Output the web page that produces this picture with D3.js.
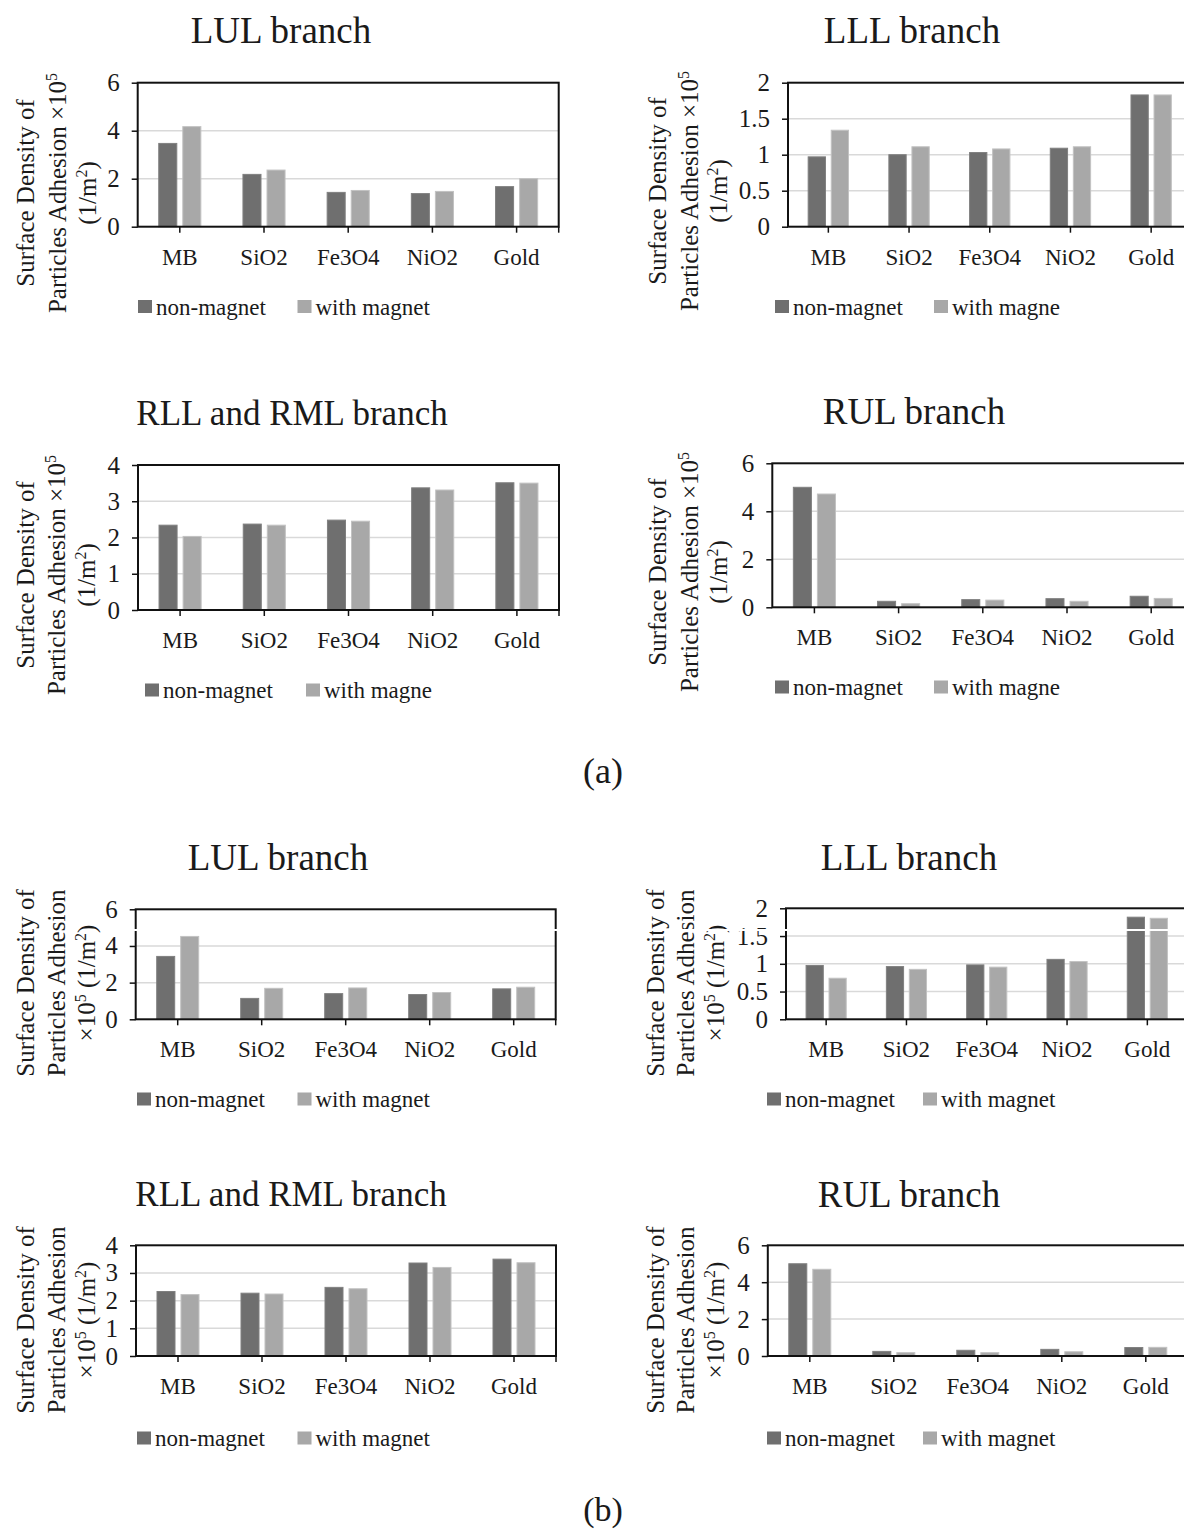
<!DOCTYPE html>
<html>
<head>
<meta charset="utf-8">
<script src="https://cdn.jsdelivr.net/npm/d3@7"></script>
<style>
  body { margin: 0; background: #fff; }
  text { font-family: "Liberation Serif", "Times New Roman", serif; fill: #1a1a1a; }
</style>
</head>
<body>
<script>
var width = 1184, height = 1534;

// categories and series
var categories = ["MB", "SiO2", "Fe3O4", "NiO2", "Gold"];
var legendFull = ["non-magnet", "with magnet"];
var legendCut = ["non-magnet", "with magne"];

// tick labels of the y axes
var ticks6 = [0, 2, 4, 6];
var ticks4 = [0, 1, 2, 3, 4];
var ticks2 = [0, 0.5, 1, 1.5, 2];

// (a) values
var aLULNon = [3.47, 2.18, 1.43, 1.38, 1.67];
var aLULMag = [4.17, 2.36, 1.51, 1.47, 2.00];
var aLLLNon = [0.97, 1.00, 1.03, 1.09, 1.83];
var aLLLMag = [1.34, 1.11, 1.08, 1.11, 1.83];
var aRLLNon = [2.34, 2.37, 2.48, 3.37, 3.51];
var aRLLMag = [2.03, 2.34, 2.45, 3.31, 3.50];
var aRULNon = [5.00, 0.25, 0.32, 0.36, 0.46];
var aRULMag = [4.72, 0.15, 0.30, 0.25, 0.37];

// (b) values
var bLULNon = [3.43, 1.14, 1.40, 1.35, 1.66];
var bLULMag = [4.52, 1.69, 1.71, 1.46, 1.75];
var bLLLNon = [0.97, 0.95, 0.98, 1.08, 1.84];
var bLLLMag = [0.74, 0.90, 0.94, 1.04, 1.82];
var bRLLNon = [2.33, 2.27, 2.48, 3.36, 3.50];
var bRLLMag = [2.22, 2.24, 2.43, 3.20, 3.37];
var bRULNon = [5.00, 0.25, 0.31, 0.36, 0.46];
var bRULMag = [4.70, 0.18, 0.18, 0.23, 0.47];

// y axis titles (^ marks a superscript digit)
var yLabelA = ["Surface Density of", "Particles Adhesion \u00d710^5", "(1/m^2)"];
var yLabelB = ["Surface Density of", "Particles Adhesion", "\u00d710^5 (1/m^2)"];

var colors = ["#6f6f6f", "#a8a8a8"];
var serif = '"Liberation Serif", "Times New Roman", serif';

var svg = d3.select('body').append('svg').attr('width', width).attr('height', height);
svg.append('rect').attr('width', width).attr('height', height).attr('fill', '#fff');

// panel layout
var panels = [
  {title: "LUL branch", ts: 37, tx: 281, ty: 30, left: 137.7, band: 84.2, top: 82.7, bottom: 226.7,
   ticks: ticks6, non: aLULNon, mag: aLULMag, legend: legendFull, lx: [138, 297.5], ly: 306.5,
   ylab: yLabelA, yx: [25, 57, 87], yy: 193},
  {title: "LLL branch", ts: 37, tx: 912, ty: 30, left: 788, band: 80.7, top: 82.7, bottom: 226.7,
   ticks: ticks2, non: aLLLNon, mag: aLLLMag, legend: legendCut, lx: [775, 934], ly: 306.5,
   ylab: yLabelA, yx: [657, 689, 718], yy: 191},
  {title: "RLL and RML branch", ts: 35, tx: 292, ty: 413, left: 138, band: 84.2, top: 465, bottom: 610,
   ticks: ticks4, non: aRLLNon, mag: aRLLMag, legend: legendCut, lx: [145, 306], ly: 690,
   ylab: yLabelA, yx: [25, 56, 86], yy: 575},
  {title: "RUL branch", ts: 37, tx: 914, ty: 411, left: 772.3, band: 84.2, top: 463.3, bottom: 607.3,
   ticks: ticks6, non: aRULNon, mag: aRULMag, legend: legendCut, lx: [775, 934], ly: 687,
   ylab: yLabelA, yx: [657, 689, 718], yy: 572},
  {title: "LUL branch", ts: 37, tx: 278, ty: 857, left: 135.7, band: 84, top: 909.3, bottom: 1019.3,
   ticks: ticks6, non: bLULNon, mag: bLULMag, legend: legendFull, lx: [137, 297.5], ly: 1099,
   ylab: yLabelB, yx: [25, 56, 86], yy: 983},
  {title: "LLL branch", ts: 37, tx: 909, ty: 857, left: 786, band: 80.3, top: 908.3, bottom: 1019.3,
   ticks: ticks2, non: bLLLNon, mag: bLLLMag, legend: legendFull, lx: [767, 923], ly: 1099,
   ylab: yLabelB, yx: [655, 685, 715], yy: 983},
  {title: "RLL and RML branch", ts: 35, tx: 291, ty: 1194, left: 136, band: 84, top: 1245.3, bottom: 1356,
   ticks: ticks4, non: bRLLNon, mag: bRLLMag, legend: legendFull, lx: [137, 297.5], ly: 1438,
   ylab: yLabelB, yx: [25, 56, 86], yy: 1320},
  {title: "RUL branch", ts: 37, tx: 909, ty: 1194, left: 767.8, band: 84, top: 1245.3, bottom: 1356,
   ticks: ticks6, non: bRULNon, mag: bRULMag, legend: legendFull, lx: [767, 923], ly: 1438,
   ylab: yLabelB, yx: [655, 685, 715], yy: 1320}
];

// write a string with ^n superscripts into a text element
function richText(sel, str) {
  var parts = str.split(/(\^\d)/);
  var afterSup = false;
  parts.forEach(function(s) {
    if (s === "") return;
    if (s[0] === "^") {
      sel.append('tspan').attr('dy', -9).attr('font-size', 16).text(s.slice(1));
      afterSup = true;
    } else {
      var t = sel.append('tspan').text(s);
      if (afterSup) { t.attr('dy', 9); afterSup = false; }
    }
  });
}

function drawPanel(p) {
  var right = p.left + p.band * categories.length;
  var yMax = p.ticks[p.ticks.length - 1];
  var x0 = d3.scaleBand().domain(categories).range([p.left, right]);
  var x1 = d3.scaleBand().domain([0, 1]).range([0, p.band]).paddingInner(0.25).paddingOuter(0.875);
  var y = d3.scaleLinear().domain([0, yMax]).range([p.bottom, p.top]);
  var g = svg.append('g');

  // gridlines
  g.selectAll('.grid').data(p.ticks.slice(1, -1)).join('line')
    .attr('x1', p.left).attr('x2', right)
    .attr('y1', function(d) { return y(d); }).attr('y2', function(d) { return y(d); })
    .attr('stroke', '#d9d9d9').attr('stroke-width', 1.5);

  // bars
  var rows = categories.map(function(c, i) { return {cat: c, vals: [p.non[i], p.mag[i]]}; });
  g.selectAll('.grp').data(rows).join('g')
    .attr('transform', function(d) { return 'translate(' + x0(d.cat) + ',0)'; })
    .selectAll('rect').data(function(d) { return d.vals; }).join('rect')
    .attr('x', function(d, i) { return x1(i); })
    .attr('width', x1.bandwidth())
    .attr('y', function(d) { return y(d); })
    .attr('height', function(d) { return p.bottom - y(d); })
    .attr('fill', function(d, i) { return colors[i]; })
    .attr('stroke', function(d, i) { return d3.color(colors[i]).brighter(0.4); })
    .attr('stroke-width', 1);

  // y axis
  var ya = g.append('g').attr('transform', 'translate(' + p.left + ',0)')
    .call(d3.axisLeft(y).tickValues(p.ticks).tickSize(6).tickPadding(12)
      .tickFormat(function(d) { return String(d); }));
  ya.select('.domain').remove();
  ya.attr('font-size', null).attr('font-family', null);
  ya.selectAll('line').attr('stroke', '#111').attr('stroke-width', 1.5);
  ya.selectAll('text').attr('font-size', 25).attr('fill', '#1a1a1a').style('font-family', serif);

  // x axis
  var xa = g.append('g').attr('transform', 'translate(0,' + p.bottom + ')')
    .call(d3.axisBottom(x0).tickSize(6).tickSizeOuter(0));
  xa.select('.domain').remove();
  xa.attr('font-size', null).attr('font-family', null);
  xa.selectAll('line').attr('stroke', '#111').attr('stroke-width', 1.5);
  xa.selectAll('text').attr('y', 30).attr('dy', '0.35em').attr('font-size', 23)
    .attr('fill', '#1a1a1a').style('font-family', serif);

  // plot frame
  g.append('rect').attr('x', p.left).attr('y', p.top)
    .attr('width', right - p.left).attr('height', p.bottom - p.top)
    .attr('fill', 'none').attr('stroke', '#111').attr('stroke-width', 2);
  g.append('line').attr('x1', right).attr('x2', right)
    .attr('y1', p.bottom).attr('y2', p.bottom + 6).attr('stroke', '#111').attr('stroke-width', 1.5);

  // title
  g.append('text').attr('x', p.tx).attr('y', p.ty).attr('dy', '0.35em')
    .attr('text-anchor', 'middle').attr('font-size', p.ts).text(p.title);

  // y axis title
  p.ylab.forEach(function(line, i) {
    var t = g.append('text')
      .attr('transform', 'translate(' + p.yx[i] + ',' + p.yy + ') rotate(-90)')
      .attr('text-anchor', 'middle').attr('dy', '0.35em').attr('font-size', 25);
    richText(t, line);
  });

  // legend
  p.legend.forEach(function(name, i) {
    g.append('rect').attr('x', p.lx[i]).attr('y', p.ly - 6.5)
      .attr('width', 14).attr('height', 13).attr('fill', colors[i]);
    g.append('text').attr('x', p.lx[i] + 18).attr('y', p.ly).attr('dy', '0.35em')
      .attr('font-size', 23).text(name);
  });
}

panels.forEach(drawPanel);

// figure part labels
svg.append('text').attr('x', 603).attr('y', 770).attr('dy', '0.35em')
  .attr('text-anchor', 'middle').attr('font-size', 36).text('(a)');
svg.append('text').attr('x', 603).attr('y', 1509).attr('dy', '0.35em')
  .attr('text-anchor', 'middle').attr('font-size', 34).text('(b)');

// thin white scan seam across the (b) top row, as in the source image
svg.append('rect').attr('x', 100).attr('y', 929).attr('width', width - 100).attr('height', 2).attr('fill', '#fff');
</script>
</body>
</html>
